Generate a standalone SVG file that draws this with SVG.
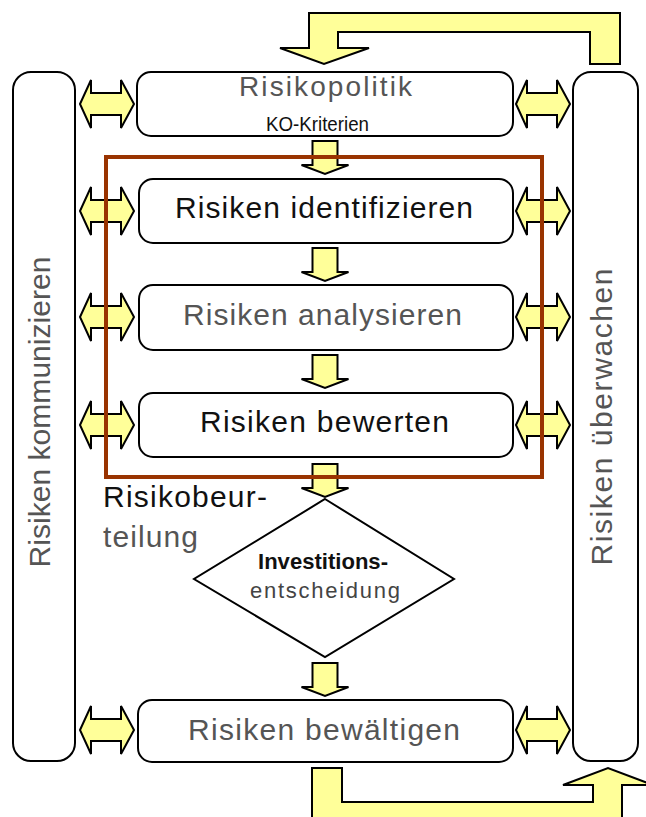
<svg xmlns="http://www.w3.org/2000/svg" width="646" height="817" viewBox="0 0 646 817">
  <style>
    .box { fill: #ffffff; stroke: #000000; stroke-width: 2; }
    .arrow { fill: #ffff99; stroke: #000000; stroke-width: 2; stroke-linejoin: miter; }
    .frame { fill: none; stroke: #993300; stroke-width: 4; }
    text { font-family: "Liberation Sans", Arial, sans-serif; }
    .big { font-size: 30px; }
    .dark { fill: #111111; }
    .light { fill: #555555; }
  </style>
  <defs>
    <!-- block arrow pointing down, origin at top centre of the stem -->
    <path id="down" d="M-12.5,0 H12.5 V24 H23.5 L0,33 L-23.5,24 H-12.5 Z"/>
    <!-- horizontal double-headed block arrow, origin at the left tip -->
    <path id="dbl" d="M0,0 L11,-24 V-11 H41 V-24 L54,0 L41,24 V11 H11 V24 Z"/>
  </defs>

  <rect width="646" height="817" fill="#ffffff"/>

  <!-- side columns -->
  <g id="kommunizieren">
    <rect class="box" x="13" y="72" width="62" height="689" rx="18"/>
    <text class="big light" transform="translate(50,412) rotate(-90)" text-anchor="middle" textLength="311" lengthAdjust="spacing">Risiken kommunizieren</text>
  </g>
  <g id="ueberwachen">
    <rect class="box" x="573" y="72" width="65" height="689" rx="18"/>
    <text class="big light" transform="translate(612,417) rotate(-90)" text-anchor="middle" textLength="297" lengthAdjust="spacing">Risiken überwachen</text>
  </g>

  <!-- process steps -->
  <g id="risikopolitik">
    <rect class="box" x="137" y="72" width="376" height="64" rx="14"/>
    <text class="light" x="239" y="96" font-size="28" textLength="173" lengthAdjust="spacing">Risikopolitik</text>
    <text class="dark" x="266" y="131" font-size="21" textLength="103" lengthAdjust="spacingAndGlyphs">KO-Kriterien</text>
  </g>
  <g id="identifizieren">
    <rect class="box" x="139" y="179" width="374" height="64" rx="14"/>
    <text class="big dark" x="175" y="218" textLength="298" lengthAdjust="spacing">Risiken identifizieren</text>
  </g>
  <g id="analysieren">
    <rect class="box" x="139" y="285" width="374" height="65" rx="14"/>
    <text class="big light" x="183" y="325" textLength="279" lengthAdjust="spacing">Risiken analysieren</text>
  </g>
  <g id="bewerten">
    <rect class="box" x="139" y="393" width="374" height="64" rx="14"/>
    <text class="big dark" x="200" y="432" textLength="249" lengthAdjust="spacing">Risiken bewerten</text>
  </g>
  <g id="investitionsentscheidung">
    <polygon class="box" points="325,499 454,579 325,657 194,579"/>
    <text class="dark" x="258" y="569" font-size="22" font-weight="bold" textLength="130" lengthAdjust="spacingAndGlyphs">Investitions-</text>
    <text fill="#444444" x="250" y="598" font-size="22" textLength="150" lengthAdjust="spacing">entscheidung</text>
  </g>
  <g id="bewaeltigen">
    <rect class="box" x="138" y="700" width="375" height="62" rx="14"/>
    <text class="big light" x="188" y="740" textLength="272" lengthAdjust="spacing">Risiken bewältigen</text>
  </g>
  <g id="risikobeurteilung">
    <text class="big dark" x="103" y="507" textLength="164" lengthAdjust="spacing">Risikobeur-</text>
    <text class="big light" x="103" y="547" textLength="95" lengthAdjust="spacing">teilung</text>
  </g>

  <g id="connectors">
    <!-- feedback loop from monitoring back to policy -->
    <path class="arrow" d="M590,64 H620 V13 H309 V48 H280 L324,64 L369,48 H338 V32 H590 Z"/>
    <!-- loop from handling up to monitoring -->
    <path class="arrow" d="M312,830 V768 H342 V802 H593 V785 H563 L608,768 L653,785 H622 V830 Z"/>

    <!-- flow between the steps -->
    <use href="#down" class="arrow" transform="translate(325,141)"/>
    <use href="#down" class="arrow" transform="translate(325,248)"/>
    <use href="#down" class="arrow" transform="translate(325,355)"/>
    <use href="#down" class="arrow" transform="translate(325,464)"/>
    <use href="#down" class="arrow" transform="translate(325,663)"/>

    <!-- exchange with the side columns -->
    <use href="#dbl" class="arrow" transform="translate(80,104)"/>
    <use href="#dbl" class="arrow" transform="translate(80,211)"/>
    <use href="#dbl" class="arrow" transform="translate(80,317)"/>
    <use href="#dbl" class="arrow" transform="translate(80,425)"/>
    <use href="#dbl" class="arrow" transform="translate(80,730)"/>
    <use href="#dbl" class="arrow" transform="translate(516,104)"/>
    <use href="#dbl" class="arrow" transform="translate(516,211)"/>
    <use href="#dbl" class="arrow" transform="translate(516,317)"/>
    <use href="#dbl" class="arrow" transform="translate(516,425)"/>
    <use href="#dbl" class="arrow" transform="translate(516,730)"/>
  </g>

  <!-- risk assessment frame -->
  <g id="beurteilung-rahmen">
    <rect class="frame" x="106" y="157" width="436" height="320"/>
  </g>
</svg>
